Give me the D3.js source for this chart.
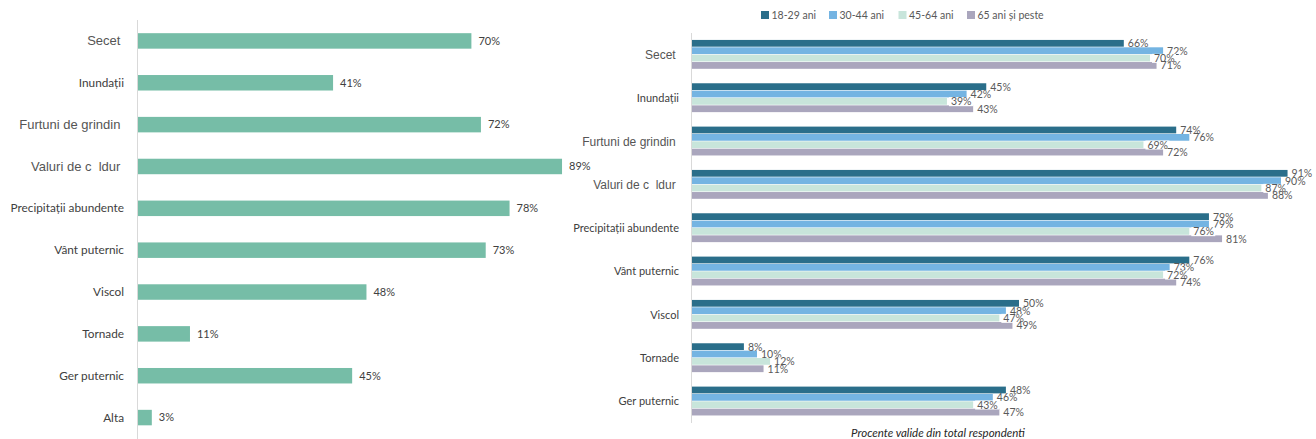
<!DOCTYPE html>
<html>
<head>
<meta charset="utf-8">
<script src="https://cdn.jsdelivr.net/npm/d3@7"></script>
<style>
  html, body { margin: 0; padding: 0; background: #fff; }
  svg { display: block; }
</style>
</head>
<body>
<svg id="chart" width="1316" height="439"></svg>
<script>
// ---- Data ----
const leftCategories = ["Secet\u00a0", "Inundații", "Furtuni de grindin\u00a0", "Valuri de c\u00a0 ldur\u00a0", "Precipitații abundente", "Vânt puternic", "Viscol", "Tornade", "Ger puternic", "Alta"];
const leftValues = [70, 41, 72, 89, 78, 73, 48, 11, 45, 3];

const rightCategories = ["Secet\u00a0", "Inundații", "Furtuni de grindin\u00a0", "Valuri de c\u00a0 ldur\u00a0", "Precipitații abundente", "Vânt puternic", "Viscol", "Tornade", "Ger puternic"];
const seriesNames = ["18-29 ani", "30-44 ani", "45-64 ani", "65 ani și peste"];
const s1829 = [66, 45, 74, 91, 79, 76, 50, 8, 48];
const s3044 = [72, 42, 76, 90, 79, 73, 48, 10, 46];
const s4564 = [70, 39, 69, 87, 76, 72, 47, 12, 43];
const s65 = [71, 43, 72, 88, 81, 74, 49, 11, 47];
const caption = "Procente valide din total respondenti";

// categories shown in Arial-like font (missing glyph labels)
const arialLabels = new Set([0, 2, 3]);

const seriesData = [s1829, s3044, s4564, s65];
const seriesColors = ["#2a6e8a", "#74b4e2", "#c8e5db", "#aaa6bd"];
const leftColor = "#76bda7";

const svg = d3.select("#chart");
const calibri = "Lato, 'Open Sans', sans-serif";
const arial = "'Liberation Sans', Arial, sans-serif";

// ---- Left chart ----
const lx = d3.scaleLinear().domain([0, 100]).range([137.5, 614.5]);
const ly = d3.scaleBand().domain(leftCategories).range([20, 438.5]).paddingInner(0.63).paddingOuter(0.315);

const gl = svg.append("g");
gl.selectAll("rect.bar").data(leftValues).join("rect")
  .attr("class", "bar")
  .attr("x", lx(0))
  .attr("y", (d, i) => ly(leftCategories[i]))
  .attr("width", d => lx(d) - lx(0))
  .attr("height", ly.bandwidth())
  .attr("fill", leftColor);

gl.append("line")
  .attr("x1", lx(0)).attr("x2", lx(0))
  .attr("y1", 20).attr("y2", 439)
  .attr("stroke", "#d9d9d9").attr("stroke-width", 1);

gl.selectAll("text.val").data(leftValues).join("text")
  .attr("class", "val")
  .attr("x", d => lx(d) + 7)
  .attr("y", (d, i) => ly(leftCategories[i]) + ly.bandwidth() / 2)
  .attr("dy", "0.35em")
  .attr("font-family", calibri)
  .attr("font-size", 11)
  .attr("fill", "#404040")
  .text(d => d + "%");

gl.selectAll("text.cat").data(leftCategories).join("text")
  .attr("class", "cat")
  .attr("x", 124)
  .attr("y", d => ly(d) + ly.bandwidth() / 2)
  .attr("dy", "0.35em")
  .attr("text-anchor", "end")
  .attr("font-family", (d, i) => arialLabels.has(i) ? arial : calibri)
  .attr("font-size", (d, i) => arialLabels.has(i) ? 13 : 11.8)
  .attr("fill", (d, i) => arialLabels.has(i) ? "#555555" : "#404040")
  .style("white-space", "pre")
  .text(d => d);

// ---- Right chart ----
const rx = d3.scaleLinear().domain([0, 100]).range([691.5, 1346.5]);
const ry = d3.scaleBand().domain(rightCategories).range([33, 423]).paddingInner(0.32).paddingOuter(0.16);
const rsub = d3.scaleBand().domain(seriesNames).range([0, ry.bandwidth()]);

const gr = svg.append("g");
seriesData.forEach((vals, si) => {
  gr.append("g").selectAll("rect").data(vals).join("rect")
    .attr("x", rx(0))
    .attr("y", (d, i) => ry(rightCategories[i]) + rsub(seriesNames[si]))
    .attr("width", d => rx(d) - rx(0))
    .attr("height", rsub.bandwidth() - 0.6)
    .attr("fill", seriesColors[si]);
});

gr.append("line")
  .attr("x1", rx(0)).attr("x2", rx(0))
  .attr("y1", 33).attr("y2", 423)
  .attr("stroke", "#d9d9d9").attr("stroke-width", 1);

// value labels
seriesData.forEach((vals, si) => {
  const g = gr.append("g");
  vals.forEach((d, i) => {
    const x = rx(d) + 4;
    const y = ry(rightCategories[i]) + rsub(seriesNames[si]) + rsub.bandwidth() / 2;
    if (si === 2) {
      g.append("rect")
        .attr("x", x - 2).attr("y", y - 4.5)
        .attr("width", 24).attr("height", 9)
        .attr("fill", "#fff");
    }
    g.append("text")
      .attr("x", x)
      .attr("y", y)
      .attr("dy", "0.35em")
      .attr("font-family", calibri)
      .attr("font-size", 10.5)
      .attr("fill", "#595959")
      .text(d + "%");
  });
});

gr.selectAll("text.cat").data(rightCategories).join("text")
  .attr("class", "cat")
  .attr("x", 679)
  .attr("y", d => ry(d) + ry.bandwidth() / 2)
  .attr("dy", "0.35em")
  .attr("text-anchor", "end")
  .attr("font-family", (d, i) => arialLabels.has(i) ? arial : calibri)
  .attr("font-size", (d, i) => arialLabels.has(i) ? 12 : 11)
  .attr("fill", (d, i) => arialLabels.has(i) ? "#555555" : "#404040")
  .style("white-space", "pre")
  .text(d => d);

// legend
const legendX = [761, 829, 898.5, 967];
const lg = svg.append("g");
seriesNames.forEach((name, i) => {
  lg.append("rect")
    .attr("x", legendX[i]).attr("y", 11)
    .attr("width", 8).attr("height", 8)
    .attr("fill", seriesColors[i]);
  lg.append("text")
    .attr("x", legendX[i] + 10.5).attr("y", 15.5)
    .attr("dy", "0.35em")
    .attr("font-family", calibri)
    .attr("font-size", 10.5)
    .attr("fill", "#595959")
    .text(name);
});

// caption
svg.append("text")
  .attr("x", 938).attr("y", 432.5)
  .attr("dy", "0.35em")
  .attr("text-anchor", "middle")
  .attr("font-family", calibri)
  .attr("font-style", "italic")
  .attr("font-size", 11.5)
  .attr("fill", "#262626")
  .text(caption);
</script>
</body>
</html>
